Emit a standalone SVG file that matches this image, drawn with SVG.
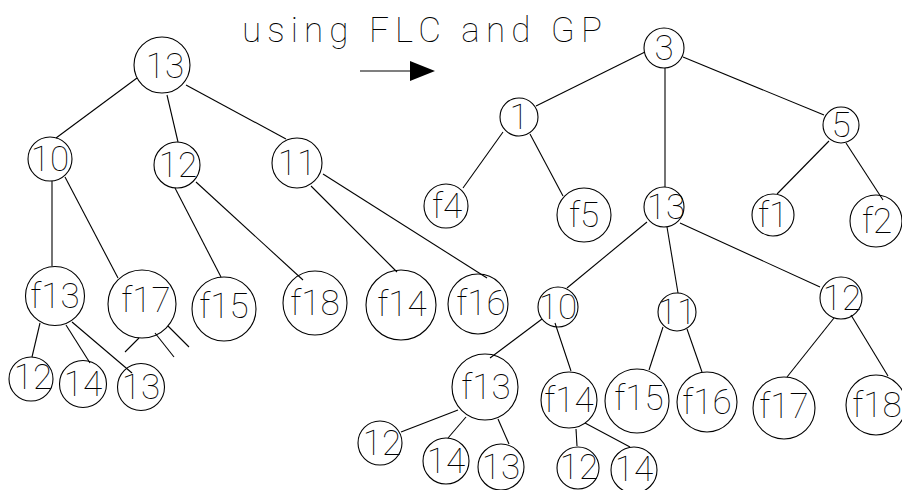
<svg xmlns="http://www.w3.org/2000/svg" width="902" height="490" viewBox="0 0 902 490">
<style>
  .n circle { fill: none; stroke: #000; stroke-width: 1.1; }
  .n text, .t { font-family: Roboto, "DejaVu Sans", sans-serif; font-weight: 100; font-size: 35px; fill: #000; text-anchor: middle; }
  .t { text-anchor: start; }
  #edges line { stroke: #000; stroke-width: 1.1; }
</style>
<rect width="902" height="490" fill="#fff"/>
<text class="t" x="242" y="42" textLength="360" lengthAdjust="spacing">using FLC and GP</text>
<g id="arrow">
  <line x1="360" y1="71" x2="412" y2="71" stroke="#000" stroke-width="1.2"/>
  <polygon points="410,61 435,71 410,81" fill="#000"/>
</g>
<g id="edges">
  <!-- left tree -->
  <line x1="137" y1="78" x2="56" y2="138"/>
  <line x1="167" y1="95" x2="178" y2="142"/>
  <line x1="186" y1="85" x2="286" y2="139"/>
  <line x1="52" y1="181" x2="52" y2="266"/>
  <line x1="65" y1="177" x2="118" y2="278"/>
  <line x1="175" y1="188" x2="221" y2="277"/>
  <line x1="196" y1="182" x2="303" y2="280"/>
  <line x1="311" y1="186" x2="397" y2="272"/>
  <line x1="323" y1="174" x2="487" y2="278"/>
  <line x1="40" y1="323" x2="32" y2="357"/>
  <line x1="66" y1="325" x2="90" y2="363"/>
  <line x1="72" y1="322" x2="132" y2="373"/>
  <line x1="139" y1="338" x2="125" y2="352"/>
  <line x1="155" y1="333" x2="174" y2="357"/>
  <line x1="168" y1="326" x2="189" y2="347"/>
  <!-- right tree -->
  <line x1="645" y1="52" x2="536" y2="106"/>
  <line x1="665" y1="68" x2="665" y2="187"/>
  <line x1="683" y1="57" x2="824" y2="115"/>
  <line x1="503" y1="132" x2="463" y2="188"/>
  <line x1="530" y1="134" x2="563" y2="196"/>
  <line x1="829" y1="141" x2="777" y2="194"/>
  <line x1="846" y1="143" x2="883" y2="200"/>
  <line x1="647" y1="222" x2="567" y2="288"/>
  <line x1="667" y1="227" x2="678" y2="293"/>
  <line x1="680" y1="223" x2="820" y2="287"/>
  <line x1="542" y1="319" x2="490" y2="358"/>
  <line x1="555" y1="323" x2="571" y2="371"/>
  <line x1="663" y1="327" x2="649" y2="370"/>
  <line x1="687" y1="329" x2="702" y2="372"/>
  <line x1="834" y1="318" x2="787" y2="377"/>
  <line x1="851" y1="315" x2="888" y2="376"/>
  <line x1="458" y1="410" x2="401" y2="432"/>
  <line x1="466" y1="417" x2="448" y2="438"/>
  <line x1="498" y1="419" x2="509" y2="444"/>
  <line x1="576" y1="429" x2="577" y2="446"/>
  <line x1="585" y1="423" x2="630" y2="447"/>
</g>
<!-- left tree nodes -->
<g id="L13" class="n"><circle cx="162" cy="65" r="28"/><text x="165" y="78">13</text></g>
<g id="L10" class="n"><circle cx="50" cy="159" r="22"/><text x="50" y="171">10</text></g>
<g id="L12" class="n"><circle cx="177" cy="165" r="23"/><text x="178" y="177">12</text></g>
<g id="L11" class="n"><circle cx="297" cy="163" r="25"/><text x="297" y="175">11</text></g>
<g id="Lf13" class="n"><circle cx="55" cy="296" r="29.5"/><text x="55" y="308">f13</text></g>
<g id="Lf17" class="n"><circle cx="142" cy="304" r="34"/><text x="146" y="312">f17</text></g>
<g id="Lf15" class="n"><circle cx="224" cy="309" r="32"/><text x="224" y="318">f15</text></g>
<g id="Lf18" class="n"><circle cx="315" cy="303" r="32"/><text x="315" y="315">f18</text></g>
<g id="Lf14" class="n"><circle cx="401" cy="305" r="35"/><text x="402" y="316">f14</text></g>
<g id="Lf16" class="n"><circle cx="478" cy="304" r="30"/><text x="481" y="315">f16</text></g>
<g id="L12b" class="n"><circle cx="31" cy="379" r="22"/><text x="33" y="389">12</text></g>
<g id="L14" class="n"><circle cx="83" cy="384" r="23.5"/><text x="83" y="396">14</text></g>
<g id="L13b" class="n"><circle cx="141" cy="387" r="23.5"/><text x="141" y="399">13</text></g>
<!-- right tree nodes -->
<g id="R3" class="n"><circle cx="664" cy="48" r="20"/><text x="664" y="60">3</text></g>
<g id="R1" class="n"><circle cx="519" cy="117" r="19"/><text x="519" y="129">1</text></g>
<g id="R5" class="n"><circle cx="841" cy="125" r="18"/><text x="841" y="137">5</text></g>
<g id="Rf4" class="n"><circle cx="446" cy="206" r="22"/><text x="447" y="218">f4</text></g>
<g id="Rf5" class="n"><circle cx="584" cy="215" r="27"/><text x="584" y="227">f5</text></g>
<g id="R13" class="n"><circle cx="664" cy="207" r="20"/><text x="666" y="219">13</text></g>
<g id="Rf1" class="n"><circle cx="773" cy="215" r="21"/><text x="773" y="227">f1</text></g>
<g id="Rf2" class="n"><circle cx="876" cy="221" r="26"/><text x="877" y="233">f2</text></g>
<g id="R10" class="n"><circle cx="558" cy="307" r="20"/><text x="558" y="319">10</text></g>
<g id="R11" class="n"><circle cx="677" cy="312" r="19"/><text x="677" y="324">11</text></g>
<g id="R12" class="n"><circle cx="841" cy="298" r="21"/><text x="842" y="310">12</text></g>
<g id="Rf13" class="n"><circle cx="485" cy="387" r="33"/><text x="486" y="399">f13</text></g>
<g id="Rf14" class="n"><circle cx="569" cy="400" r="28"/><text x="569" y="412">f14</text></g>
<g id="Rf15" class="n"><circle cx="637" cy="401" r="32"/><text x="639" y="410">f15</text></g>
<g id="Rf16" class="n"><circle cx="707" cy="402" r="30"/><text x="707" y="414">f16</text></g>
<g id="Rf17" class="n"><circle cx="784" cy="408" r="31"/><text x="784" y="418">f17</text></g>
<g id="Rf18" class="n"><circle cx="876" cy="405" r="30"/><text x="877" y="417">f18</text></g>
<g id="R12a" class="n"><circle cx="380" cy="443" r="22"/><text x="382" y="455">12</text></g>
<g id="R14a" class="n"><circle cx="446" cy="461" r="23"/><text x="446" y="473">14</text></g>
<g id="R13a" class="n"><circle cx="501" cy="467" r="23"/><text x="501" y="479">13</text></g>
<g id="R12b" class="n"><circle cx="578" cy="468" r="21"/><text x="579" y="479">12</text></g>
<g id="R14b" class="n"><circle cx="634" cy="470" r="23"/><text x="634" y="481">14</text></g>
</svg>
